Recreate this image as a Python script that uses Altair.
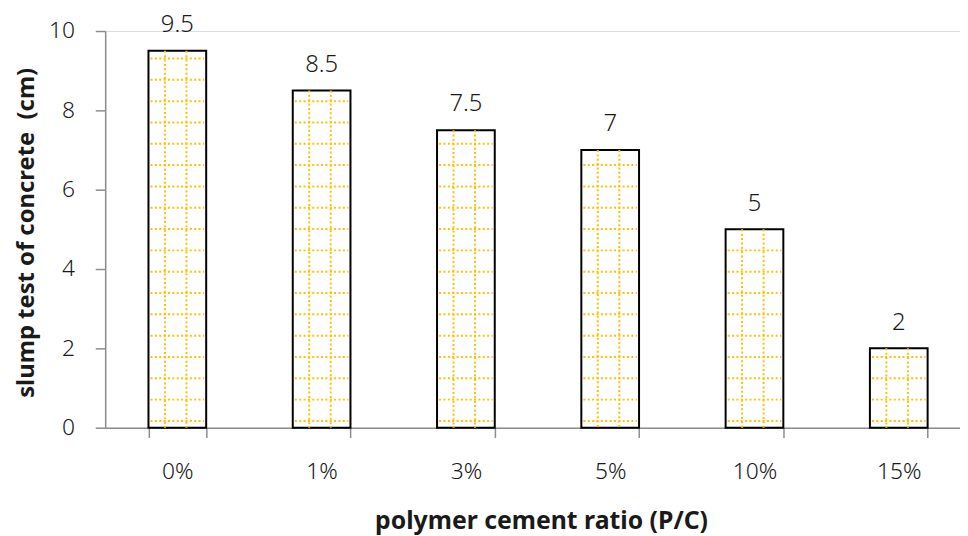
import altair as alt
import pandas as pd

categories = ["0%", "1%", "3%", "5%", "10%", "15%"]
slump = [9.5, 8.5, 7.5, 7, 5, 2]
labels = ["9.5", "8.5", "7.5", "7", "5", "2"]
y_ticks = [0, 2, 4, 6, 8, 10]

df = pd.DataFrame({"ratio": categories, "slump": slump, "label": labels})

# texture (pattern fill) rows inside each bar -- styling only
PAT_START, PAT_STEP = 0.17, 0.5375
rows = []
for c, v in zip(categories, slump):
    k = 0
    while PAT_START + k * PAT_STEP < v - 0.15:
        rows.append({"ratio": c, "py": PAT_START + k * PAT_STEP})
        k += 1
pat = pd.DataFrame(rows)

FONT = "Noto Sans"
GOLD = "#FFC000"
INK = "#1a1a1a"
W = 873

x_enc = alt.X(
    "ratio:N", sort=categories,
    scale=alt.Scale(paddingInner=0.6, paddingOuter=0.3),
    axis=alt.Axis(
        title="polymer cement ratio (P/C)", labelAngle=0, tickBand="extent",
        tickSize=10, tickColor="#8c8c8c", tickWidth=1.5,
        domainColor="#8c8c8c", domainWidth=1.5,
        labelFont=FONT, labelFontSize=23, labelFontWeight=300, labelColor=INK,
        labelBaseline="middle", labelPadding=34,
        titleFont=FONT, titleFontSize=25, titleFontWeight="bold", titleColor=INK,
        titleX=W / 2 + 3, titleY=94, titleAlign="center", titleBaseline="middle",
    ),
)
y_scale = alt.Scale(domain=[0, 10])
y_axis = alt.Axis(
    title="slump test of concrete\u00a0 (cm)", values=y_ticks, grid=False,
    tickSize=10, tickColor="#8c8c8c", tickWidth=1.5,
    domainColor="#8c8c8c", domainWidth=1.5,
    labelFont=FONT, labelFontSize=23, labelFontWeight=300, labelColor=INK, labelPadding=21,
    titleFont=FONT, titleFontSize=24, titleFontWeight="bold", titleColor=INK,
    titleX=-79, titleY=203, titleAngle=270, titleAlign="center", titleBaseline="middle",
)

base = alt.Chart(df)

hrows = alt.Chart(pat).mark_rule(
    color=GOLD, strokeWidth=2, strokeDash=[2, 2.4], xOffset=-27, x2Offset=27
).encode(x=alt.X("ratio:N", sort=categories), x2=alt.X2("ratio"), y=alt.Y("py:Q", scale=y_scale))

vcol1 = base.mark_rule(color=GOLD, strokeWidth=2, strokeDash=[2, 2.4], xOffset=-12.5).encode(
    x=alt.X("ratio:N", sort=categories), y=alt.Y("slump:Q", scale=y_scale), y2=alt.datum(0)
)
vcol2 = base.mark_rule(color=GOLD, strokeWidth=2, strokeDash=[2, 2.4], xOffset=9.2).encode(
    x=alt.X("ratio:N", sort=categories), y=alt.Y("slump:Q", scale=y_scale), y2=alt.datum(0)
)

bars = base.mark_bar(fillOpacity=0, stroke="black", strokeWidth=2).encode(
    x=x_enc, y=alt.Y("slump:Q", scale=y_scale, axis=y_axis)
)

text = base.mark_text(font=FONT, fontSize=24, fontWeight=300, color=INK,
                      baseline="alphabetic", dy=-19).encode(
    x=alt.X("ratio:N", sort=categories), y=alt.Y("slump:Q", scale=y_scale), text="label:N"
)

chart = alt.layer(bars, hrows, vcol1, vcol2, text).properties(
    width=W, height=400,
    autosize=alt.AutoSizeParams(type="none"),
    padding={"left": 98, "top": 21, "right": -11, "bottom": 107},
).configure_view(stroke=None).configure(background="white")

chart.save("out.html", embed_options={"renderer": "svg", "actions": False})
